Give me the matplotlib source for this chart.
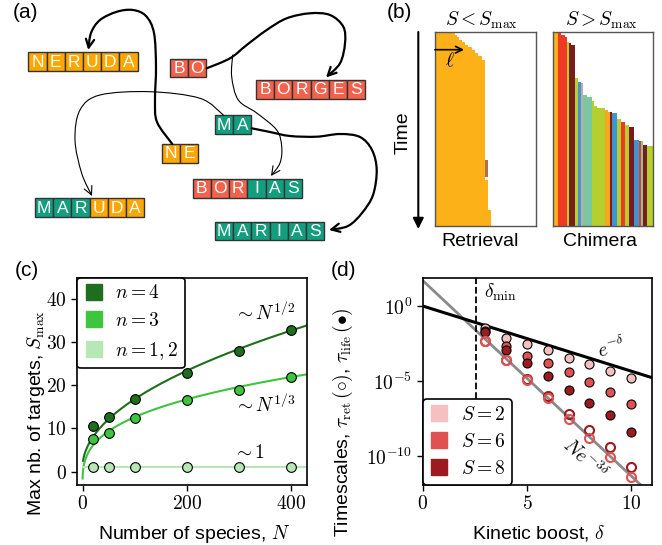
import numpy as np
import matplotlib.pyplot as plt
from matplotlib.patches import Rectangle, FancyArrowPatch
from matplotlib.path import Path
from matplotlib.lines import Line2D
from matplotlib.ticker import FuncFormatter

plt.rcParams['font.family'] = ['Liberation Sans', 'DejaVu Sans']
plt.rcParams['mathtext.fontset'] = 'cm'
plt.rcParams['font.size'] = 14

# ---- data ----
# (a) words and the colour of each letter (Y = Neruda, R = Borges, T = Marias)
words = ['NERUDA', 'BO', 'BORGES', 'MA', 'NE', 'BORIAS', 'MARUDA', 'MARIAS']
word_cols = ['YYYYYY', 'RR', 'RRRRRR', 'TT', 'YY', 'RRRTTT', 'TTTYYY', 'TTTTTT']

# (b) retrieval: length profile over time
ret_time = [0, 3, 9, 15, 22, 29, 37, 45, 52, 62, 72, 82, 383, 443, 533, 580]
ret_len = [55, 60, 65, 72, 80, 89, 99, 109, 119, 129, 139, 149, 150, 158, 168]
# (b) chimera: stripes along the length, with time of first appearance
chim_edges = [0, 15, 24, 37, 42, 50, 56, 66, 76, 86, 92, 104, 117, 124, 134, 158,
              167, 172, 177, 194, 204, 217, 230, 245, 259, 264, 270, 284, 300]
chim_top = [0, 2, 7, 13, 30, 33, 37, 138, 150, 152, 188, 195, 205, 220, 228, 232,
            238, 240, 243, 260, 268, 278, 283, 322, 325, 325, 337, 342]
chim_species = ['Y', 'R', 'R', 'R', 'O', 'D', 'D', 'O', 'B', 'P', 'T', 'T', 'O', 'O',
                'O', 'A', 'A', 'D', 'B', 'O', 'R', 'O', 'D', 'B', 'R', 'T', 'D', 'O']

# (c) max number of targets
N_species = [20, 50, 100, 200, 300, 400]
smax_n4 = [10.6, 12.7, 16.9, 22.9, 28.0, 32.9]
smax_n3 = [7.5, 9.0, 12.5, 16.5, 19.0, 21.9]
smax_n12 = [1, 1, 1, 1, 1, 1]
fit_n4 = (1.59, 0.9)    # a*N^(1/2)+b
fit_n3 = (3.41, -3.2)   # a*N^(1/3)+b

# (d) timescales (log10 values)
delta = [3, 4, 5, 6, 7, 8, 9, 10]
life_S2 = [-1.49, -2.16, -2.50, -2.95, -3.44, -3.89, -4.34, -4.82]
life_S6 = [-1.64, -2.68, -3.35, -3.78, -4.41, -5.04, -5.76, -6.54]
life_S8 = [-1.76, -2.90, -3.78, -4.68, -5.60, -6.47, -7.29, -8.41]
ret_S6 = [-2.34, -3.62, -4.93, -6.14, -7.53, -8.79, -10.05, -11.42]
ret_S8 = [-2.30, -3.58, -4.88, -6.03, -7.22, -8.27, -9.42, -10.70]
N_d = 50
delta_min = 2.58

W, H = 662, 545
fig = plt.figure(figsize=(W / 100, H / 100), dpi=100)


def rect(x0, y0, x1, y1):
    return [x0 / W, 1 - y1 / H, (x1 - x0) / W, (y1 - y0) / H]


def smooth_path(pts):
    P = np.array(pts, float)
    E = np.vstack([P[0], P, P[-1]])
    verts, codes = [P[0]], [Path.MOVETO]
    for i in range(len(P) - 1):
        p0, p1, p2, p3 = E[i], E[i + 1], E[i + 2], E[i + 3]
        verts += [p1 + (p2 - p0) / 6, p2 - (p3 - p1) / 6, p2]
        codes += [Path.CURVE4] * 3
    return Path(verts, codes)


math_fmt = FuncFormatter(lambda v, p: r'$%g$' % v)

# ---- (c) ----
g4, g3, g12 = '#1e6e1e', '#3ec43e', '#b7e7b7'
axc = fig.add_axes(rect(77.3, 277.5, 306.7, 484.5))
Nf4 = np.linspace(1, 430, 300)
Nf3 = np.linspace(0.1, 430, 600)
axc.plot(Nf4, fit_n4[0] * Nf4 ** 0.5 + fit_n4[1], color=g4, lw=1.5)
axc.plot(Nf3, fit_n3[0] * Nf3 ** (1 / 3) + fit_n3[1], color=g3, lw=1.5)
axc.plot([0, 430], [1, 1], color=g12, lw=1.5)
for ys, c in [(smax_n4, g4), (smax_n3, g3), (smax_n12, g12)]:
    axc.plot(N_species, ys, 'o', ms=7, mfc=c, mec='k', mew=0.8, zorder=3)
axc.set_xlim(-10, 430)
axc.set_ylim(-3, 45)
axc.set_xticks([0, 200, 400])
axc.set_yticks([0, 10, 20, 30, 40])
axc.xaxis.set_major_formatter(math_fmt)
axc.yaxis.set_major_formatter(math_fmt)
axc.set_xlabel(r'Number of species, $N$')
axc.set_ylabel(r'Max nb. of targets, $S_{\max}$')
axc.xaxis.set_label_coords(0.509, -0.185)
axc.yaxis.set_label_coords(-0.13, 0.345)
axc.text(350, 36.9, r'$\sim N^{1/2}$', ha='center', va='center')
axc.text(350, 15.4, r'$\sim N^{1/3}$', ha='center', va='center')
axc.text(320, 4.3, r'$\sim 1$', ha='center', va='center')
hc = [Line2D([], [], ls='', marker='s', ms=11, mfc=c, mec=c) for c in (g4, g3, g12)]
legc = axc.legend(hc, [r'$n=4$', r'$n=3$', r'$n=1,2$'], loc='upper left',
                  borderaxespad=0, framealpha=1, edgecolor='k', handlelength=1.0,
                  handletextpad=0.6, labelspacing=0.5, borderpad=0.35)
legc.get_frame().set_linewidth(1.2)

# ---- (d) ----
r2, r6, r8 = '#f4c0c0', '#e05252', '#9b1b1e'
axd = fig.add_axes(rect(422.7, 277.5, 652, 484.5))
xd = np.linspace(0, 11, 200)
axd.plot(xd, N_d * np.exp(-3 * xd), color='#8a8a8a', lw=2)
axd.plot(xd, np.exp(-xd), color='k', lw=2.2)
axd.axvline(delta_min, color='k', ls='--', lw=1.3)
for ys, c in [(life_S2, r2), (life_S6, r6), (life_S8, r8)]:
    axd.plot(delta, 10 ** np.array(ys), 'o', ms=6.5, mfc=c, mec='k', mew=0.8, zorder=3)
for ys, c in [(ret_S8, r8), (ret_S6, r6)]:
    axd.plot(delta, 10 ** np.array(ys), 'o', ms=6.5, mfc='none', mec=c, mew=1.5, zorder=3)
axd.set_yscale('log')
axd.set_xlim(0, 11)
axd.set_ylim(10 ** -11.9, 10 ** 1.9)
axd.set_xticks([0, 5, 10])
axd.set_yticks([1e0, 1e-5, 1e-10])
axd.yaxis.set_minor_locator(plt.NullLocator())
axd.xaxis.set_major_formatter(math_fmt)
axd.yaxis.set_major_formatter(FuncFormatter(lambda v, p: r'$10^{%d}$' % round(np.log10(v))))
axd.set_xlabel(r'Kinetic boost, $\delta$')
axd.set_ylabel(r'Timescales, $\tau_{\rm ret}\,(\circ)$, $\tau_{\rm life}\,(\bullet)$')
axd.xaxis.set_label_coords(0.506, -0.185)
axd.yaxis.set_label_coords(-0.295, 0.30)
axd.text(3.74, 10 ** 0.9, r'$\delta_{\min}$', ha='center', va='center')
axd.text(9.08, 10 ** -2.8, r'$e^{-\delta}$', ha='center', va='center', rotation=15)
axd.text(7.77, 10 ** -10.2, r'$Ne^{-3\delta}$', ha='center', va='center', rotation=-43)
hd = [Line2D([], [], ls='', marker='s', ms=11, mfc=c, mec=c) for c in (r2, r6, r8)]
legd = axd.legend(hd, [r'$S=2$', r'$S=6$', r'$S=8$'], loc='lower left',
                  borderaxespad=0, framealpha=1, edgecolor='k', handlelength=1.0,
                  handletextpad=0.6, labelspacing=0.45, borderpad=0.35)
legd.get_frame().set_linewidth(1.2)

for ax in (axc, axd):
    for s in ax.spines.values():
        s.set_linewidth(1.2)
    ax.tick_params(length=4, width=1)

# ---- (b) ----
bcol = {'Y': '#fbb117', 'R': '#ee3a24', 'D': '#7b1c1c', 'O': '#b5cf2f',
        'B': '#3f94d4', 'P': '#c8a8a0', 'T': '#7bc8a0', 'A': '#f7a823'}
axr = fig.add_axes(rect(435, 32.3, 535.7, 225.7))
axr.barh(ret_time[:-1], ret_len, height=np.diff(ret_time), align='edge',
         color=bcol['Y'], lw=0)
axr.barh(383, 8, left=150, height=50, align='edge', color='#b07050', lw=0)
axm = fig.add_axes(rect(552.7, 32.3, 652.7, 225.7))
axm.bar(chim_edges[:-1], [580 - t for t in chim_top], width=np.diff(chim_edges),
        bottom=chim_top, align='edge', color=[bcol[s] for s in chim_species], lw=0)
for ax in (axr, axm):
    ax.set_xlim(0, 300)
    ax.set_ylim(580, 0)
    ax.set_xticks([])
    ax.set_yticks([])
    for s in ax.spines.values():
        s.set_linewidth(1)
        s.set_color('#555555')

# ---- overlay: (a) and annotations ----
ov = fig.add_axes([0, 0, 1, 1], zorder=5)
ov.set_xlim(0, W)
ov.set_ylim(H, 0)
ov.axis('off')

acol = {'Y': '#ffa600', 'R': '#f4624d', 'T': '#139e80'}
word_pos = [(28.3, 52.3), (170, 58.7), (256, 80), (215, 115.3), (161.7, 144),
            (192.7, 179), (35, 198.3), (215, 221.7)]
cw, ch = 18.2, 18.7
for w, cols, (x0, y0) in zip(words, word_cols, word_pos):
    for i, (letter, c) in enumerate(zip(w, cols)):
        ov.add_patch(Rectangle((x0 + i * cw, y0), cw, ch, fc=acol[c], ec='#333333', lw=1))
        ov.text(x0 + (i + 0.5) * cw, y0 + ch / 2 + 0.5, letter, color='white',
                ha='center', va='center', fontsize=12.5)

curves = [
    ([(172.3, 144), (157, 122), (155, 100), (156, 67), (154, 33), (146, 16), (133, 10),
      (117, 11.7), (100, 20), (91, 33), (88.3, 50)], 1.6),
    ([(206.7, 68.3), (230, 58.3), (246.7, 45), (266.7, 30), (286.7, 18.3), (310, 13.3),
      (330, 15), (343.3, 26.7), (345, 43.3), (340, 63.3), (326, 77.5)], 1.6),
    ([(232.7, 55), (231.7, 76.7), (238.3, 100), (256.7, 113), (276.7, 130), (281.7, 146.7),
      (280, 163), (271, 176)], 0.8),
    ([(223.3, 115), (200, 98.3), (150, 91.7), (100, 95), (80, 110), (75, 140),
      (81.7, 173.3), (92, 196)], 0.8),
    ([(251.7, 128.3), (270, 132), (290, 136), (316.7, 136.7), (340, 134), (360, 137),
      (372, 150), (376.7, 170), (373, 195), (362, 213), (348, 226), (329, 230)], 1.6),
]
for pts, lw in curves:
    ov.add_patch(FancyArrowPatch(path=smooth_path(pts), arrowstyle='->', mutation_scale=15,
                                 lw=lw, color='k', transform=ov.transData))

ov.annotate('', xy=(418.3, 229), xytext=(418.3, 32),
            arrowprops=dict(arrowstyle='-|>', lw=1.5, color='k', mutation_scale=16,
                            shrinkA=0, shrinkB=0))
ov.text(403, 133, 'Time', rotation=90, ha='center', va='center')
ov.annotate('', xy=(464, 49.7), xytext=(435, 49.7),
            arrowprops=dict(arrowstyle='->', lw=1.2, color='k', mutation_scale=12,
                            shrinkA=0, shrinkB=0))
ov.text(450, 61, r'$\ell$', ha='center', va='center')
ov.text(481, 20, r'$S<S_{\max}$', ha='center', va='center')
ov.text(601, 20, r'$S>S_{\max}$', ha='center', va='center')
ov.text(480, 242, 'Retrieval', ha='center', va='center')
ov.text(600, 242, 'Chimera', ha='center', va='center')

for lab, x, y in [('(a)', 13, 13), ('(b)', 387, 12), ('(c)', 15, 270), ('(d)', 331, 270)]:
    ov.text(x, y, lab, ha='left', va='center', fontsize=15)

fig.savefig('out.png', dpi=100)
